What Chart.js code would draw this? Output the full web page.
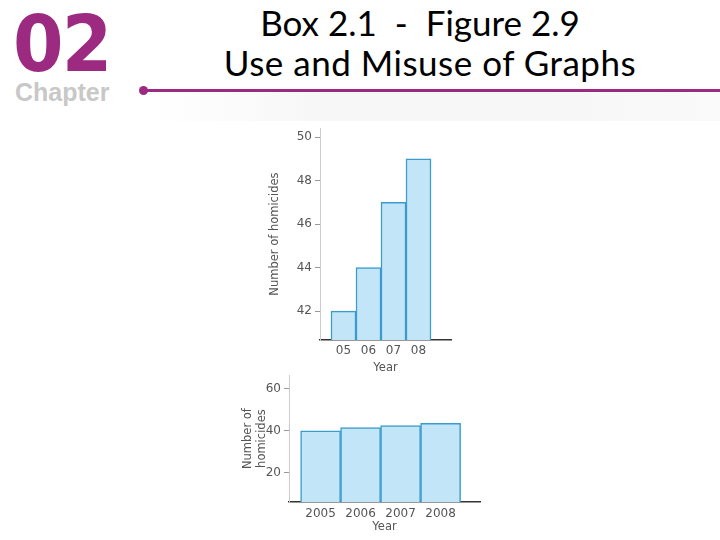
<!DOCTYPE html>
<html>
<head>
<meta charset="utf-8">
<script src="https://cdn.jsdelivr.net/npm/chart.js@4/dist/chart.umd.min.js"></script>
<style>
  body { margin: 0; width: 720px; height: 540px; background: #fff; position: relative; overflow: hidden; }
  .abs { position: absolute; }
  #num { left: 13px; top: 4px; font: bold 79px/80px "DejaVu Sans"; color: #9c2a80; transform: scaleX(0.92); transform-origin: left top; letter-spacing: -2px; }
  #chap { left: 15px; top: 80px; font: bold 25px/25px "Liberation Sans"; color: #c8c8c8; }
  .ttl { font: 35px/39px Lato; color: #000; white-space: nowrap; transform: translateX(-50%); }
  #rule { left: 143px; top: 89px; width: 577px; height: 3px; background: #9c2a80; }
  #dot { left: 139px; top: 86px; width: 9px; height: 9px; border-radius: 50%; background: #9c2a80; }
  #shade { left: 150px; top: 93px; width: 570px; height: 28px; background: linear-gradient(90deg, #fff, #f7f7f7 30%, #f7f7f7 70%, #fafafa); }
</style>
</head>
<body>
<div class="abs" id="shade"></div>
<div class="abs" id="num">02</div>
<div class="abs" id="chap">Chapter</div>
<div class="abs ttl" style="left:420px; top:3px;">Box 2.1&nbsp; -&nbsp; Figure 2.9</div>
<div class="abs ttl" style="left:430px; top:43px; letter-spacing: 0.5px;">Use and Misuse of Graphs</div>
<div class="abs" id="rule"></div>
<div class="abs" id="dot"></div>

<canvas id="topChart" class="abs" width="200" height="270" style="left:262px; top:118px;"></canvas>
<canvas id="bottomChart" class="abs" width="260" height="175" style="left:232px; top:365px;"></canvas>

<script>
// data
const topYears = ['05', '06', '07', '08'];
const topCounts = [42, 44, 47, 49];
const topTicks = [42, 44, 46, 48, 50];

const bottomYears = ['2005', '2006', '2007', '2008'];
const bottomCounts = [40, 41.5, 42.5, 43.5];
const bottomTicks = [20, 40, 60];

const barFill = '#c3e5f8';
const barLine = '#3a9ccc';
const textGrey = '#555';

function makeChart(id, years, counts, yTicks, o) {
    const ctx = document.getElementById(id);
    let points = [];
    for (let i = 0; i < counts.length; i++) {
        points.push({ x: i, y: counts[i] });
    }
    return new Chart(ctx, {
        type: 'bar',
        data: {
            datasets: [{
                data: points,
                backgroundColor: barFill,
                borderColor: barLine,
                borderWidth: 1.5,
                categoryPercentage: 1,
                barPercentage: 1
            }]
        },
        options: {
            responsive: false,
            animation: false,
            devicePixelRatio: 1,
            layout: { padding: o.pad },
            plugins: { legend: { display: false }, tooltip: { enabled: false } },
            scales: {
                x: {
                    type: 'linear',
                    min: o.xmin,
                    max: o.xmax,
                    offset: false,
                    grid: { display: false, drawTicks: false, offset: false },
                    border: { display: true, color: '#333', width: 1.5 },
                    afterBuildTicks: (s) => { s.ticks = years.map((y, i) => ({ value: i })); },
                    afterFit: (s) => { s.height = o.xh; },
                    ticks: {
                        padding: o.xpad,
                        color: textGrey,
                        font: { family: 'DejaVu Sans', size: o.fs },
                        maxRotation: 0,
                        callback: (v) => years[v]
                    },
                    title: {
                        display: true,
                        text: 'Year',
                        color: textGrey,
                        font: { family: 'DejaVu Sans', size: o.tfs },
                        padding: { top: 0, bottom: o.xtpad }
                    }
                },
                y: {
                    min: o.ymin,
                    max: o.ymax,
                    grid: { display: true, drawOnChartArea: false, drawTicks: true, tickLength: 5, color: '#999' },
                    border: { display: true, color: '#ccc', width: 1 },
                    afterBuildTicks: (s) => { s.ticks = yTicks.map((v) => ({ value: v })); },
                    afterFit: (s) => { s.width = o.yw; },
                    ticks: {
                        padding: 3,
                        color: textGrey,
                        font: { family: 'DejaVu Sans', size: o.fs }
                    },
                    title: {
                        display: true,
                        text: o.ytitle,
                        color: textGrey,
                        font: { family: 'DejaVu Sans', size: o.tfs },
                        padding: { top: o.ytpad, bottom: 0 }
                    }
                }
            }
        }
    });
}

makeChart('topChart', topYears, topCounts, topTicks, {
    pad: { top: 9, right: 11, left: 0, bottom: 0 },
    xmin: -0.94, xmax: 4.30, xh: 48, xpad: 4, xtpad: 13,
    ymin: 40.67, ymax: 50.41, yw: 58, ytpad: 6,
    fs: 12, tfs: 11.5,
    ytitle: 'Number of homicides'
});

makeChart('bottomChart', bottomYears, bottomCounts, bottomTicks, {
    pad: { top: 8, right: 12, left: 0, bottom: 0 },
    xmin: -0.79, xmax: 3.985, xh: 38, xpad: 5, xtpad: 6,
    ymin: 5.88, ymax: 66.6, yw: 57, ytpad: 9,
    fs: 12, tfs: 11.5,
    ytitle: ['Number of', 'homicides']
});
</script>
</body>
</html>
